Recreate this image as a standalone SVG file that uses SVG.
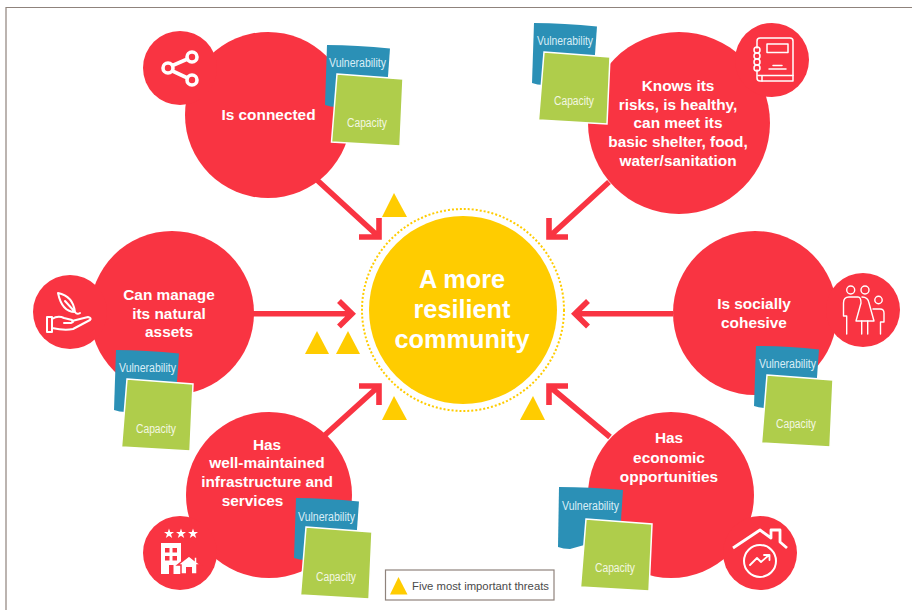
<svg xmlns="http://www.w3.org/2000/svg" width="912" height="610" viewBox="0 0 912 610">
<style>
.bg{fill:#fff}
.red{fill:#f93442}
.tri{fill:#ffcc00}
.arrow{fill:none;stroke:#f93442;stroke-width:5.6;stroke-linejoin:miter;stroke-miterlimit:6}
.blue{fill:#2b90b6}
.green{fill:#afcd4b;stroke:#fff;stroke-width:1.5}
.lab{font-family:"Liberation Sans",Arial,sans-serif;font-weight:700;font-size:15.4px;fill:#fff;text-anchor:middle}
.big{font-size:25.3px}
.v{font-family:"Liberation Sans",Arial,sans-serif;font-size:12px;fill:#d9eef6}
.c{font-family:"Liberation Sans",Arial,sans-serif;font-size:12px;fill:#f3f7e2}
.ico{fill:none;stroke:#fff;stroke-linejoin:round;stroke-linecap:round}
.solid{fill:#fff}
.hole{fill:#f93442}
.leg{font-family:"Liberation Sans",Arial,sans-serif;font-size:11.8px;fill:#4a4a4a}
</style>
<defs>
<path id="bluenote" class="blue" d="M0 0Q30 0 63 3.5L60 45 10 62Q3 62-2 60Z"/>
<polygon id="greennote" class="green" points="0,0 66,5 63,72 -5.5,68"/>
</defs>
<rect class="bg" width="912" height="610"/>
<path d="M6 610V7.500H912" fill="none" stroke="#8f837c" stroke-width="1.2"/>

<g id="connectors">
<path class="arrow" d="M317 180L379 237M359 237H379V218"/>
<path class="arrow" d="M609 182L549 237M568 237H549V218"/>
<path class="arrow" d="M253 313.7H352M339 301L352 313.7 339 326.5"/>
<path class="arrow" d="M673 313.7H575M588 301L575 313.7 588 326.5"/>
<path class="arrow" d="M325 435L379 386M359 386H379V405"/>
<path class="arrow" d="M610 437L549 386M568 386H549V405"/>
</g>

<g id="threats">
<polygon class="tri" points="394,193 382,217 407,217"/>
<polygon class="tri" points="317,331 305,354 329,354"/>
<polygon class="tri" points="348,331 336,354 360,354"/>
<polygon class="tri" points="394,396 382,420 407,420"/>
<polygon class="tri" points="533,396 520,420 545,420"/>
</g>

<g id="centre">
<circle cx="463" cy="310" r="101" fill="none" stroke="#ffcc00" stroke-width="2" stroke-dasharray="2 2"/>
<circle cx="463" cy="310" r="94" fill="#ffcc00"/>
<text class="lab big" x="462" y="288">A more</text>
<text class="lab big" x="462" y="318">resilient</text>
<text class="lab big" x="462" y="348">community</text>
</g>

<g id="node-connected">
<circle class="red" cx="268" cy="115" r="83"/>
<circle class="red" cx="180" cy="68" r="37"/>
<g class="ico" stroke-width="3.6">
<path d="M172.500 65.500L187.500 59M172.500 71L187.500 78"/>
<circle cx="168" cy="68" r="5"/><circle cx="192" cy="57" r="5"/><circle cx="192" cy="80" r="5"/>
</g>
<text class="lab" x="268.500" y="120">Is connected</text>
<use href="#bluenote" x="327" y="45"/>
<use href="#greennote" x="337" y="74"/>
<text class="v" x="329" y="67" textLength="57" lengthAdjust="spacingAndGlyphs">Vulnerability</text>
<text class="c" x="347" y="127" textLength="40" lengthAdjust="spacingAndGlyphs">Capacity</text>
</g>

<g id="node-knows">
<circle class="red" cx="679" cy="123" r="91"/>
<circle class="red" cx="772" cy="60" r="37"/>
<g class="ico" stroke-width="1.5">
<path d="M757 48V41Q757 38 760 38H790Q793 38 793 41V81H760Q757 81 757 78V70"/>
<rect x="767" y="44" width="21" height="8.500"/>
<path d="M773 65.500H782M769 69H786M758 75.500H793M762 75.500V81"/>
<circle cx="757" cy="50" r="3"/><circle cx="757" cy="56" r="3"/><circle cx="757" cy="62" r="3"/><circle cx="757" cy="68" r="3"/>
</g>
<text class="lab" x="678" y="91">Knows its</text>
<text class="lab" x="678" y="110">risks, is healthy,</text>
<text class="lab" x="678" y="128">can meet its</text>
<text class="lab" x="678" y="147">basic shelter, food,</text>
<text class="lab" x="678" y="166">water/sanitation</text>
<use href="#bluenote" x="534" y="23"/>
<use href="#greennote" x="544" y="52"/>
<text class="v" x="537" y="45" textLength="56" lengthAdjust="spacingAndGlyphs">Vulnerability</text>
<text class="c" x="554" y="105" textLength="40" lengthAdjust="spacingAndGlyphs">Capacity</text>
</g>

<g id="node-natural">
<circle class="red" cx="172" cy="313" r="82"/>
<circle class="red" cx="70" cy="312" r="37"/>
<g class="ico" stroke-width="2">
<path d="M58 293Q73 296 75 312 62 312 58 293ZM65 301L75 312Q77 315 80 313"/>
<path d="M47 317H52V332H47ZM52 319Q58 315 64 318L72 320Q75 322 71 323H64M72 321L88 317Q92 318 90 320L73 329Q65 331 52 328"/>
</g>
<text class="lab" x="169" y="300">Can manage</text>
<text class="lab" x="169" y="319">its natural</text>
<text class="lab" x="169" y="337">assets</text>
<use href="#bluenote" x="116" y="350"/>
<use href="#greennote" x="127" y="379"/>
<text class="v" x="119" y="372" textLength="57" lengthAdjust="spacingAndGlyphs">Vulnerability</text>
<text class="c" x="136" y="433" textLength="40" lengthAdjust="spacingAndGlyphs">Capacity</text>
</g>

<g id="node-cohesive">
<circle class="red" cx="755" cy="313" r="82"/>
<circle class="red" cx="863" cy="310" r="37"/>
<g class="ico" stroke-width="1.400">
<circle cx="850.700" cy="290" r="4"/><circle cx="865" cy="290" r="4"/><circle cx="878.500" cy="300" r="3.700"/>
<path d="M846.700 334V316H843.500V303Q843.500 297 849 297H858Q861 297 861 303L856 321H874L869 303Q868 297 862 297"/>
<path d="M861.700 321V334M867.700 321V334"/>
<path d="M873 309H880Q884 309 884 313V322H880.500V334"/>
</g>
<text class="lab" x="754" y="309">Is socially</text>
<text class="lab" x="754" y="328">cohesive</text>
<use href="#bluenote" x="756" y="346"/>
<use href="#greennote" x="767" y="375"/>
<text class="v" x="759" y="368" textLength="57" lengthAdjust="spacingAndGlyphs">Vulnerability</text>
<text class="c" x="776" y="428" textLength="40" lengthAdjust="spacingAndGlyphs">Capacity</text>
</g>

<g id="node-infrastructure">
<circle class="red" cx="269" cy="495" r="83"/>
<circle class="red" cx="180" cy="553" r="37"/>
<g>
<polygon class="solid" points="169,528.500 170.200,532 174,532 171,534.200 172.200,538 169,535.700 165.800,538 167,534.200 164,532 167.800,532"/>
<polygon class="solid" points="181,528.500 182.200,532 186,532 183,534.200 184.200,538 181,535.700 177.800,538 179,534.200 176,532 179.800,532"/>
<polygon class="solid" points="193,528.500 194.200,532 198,532 195,534.200 196.200,538 193,535.700 189.800,538 191,534.200 188,532 191.800,532"/>
<rect class="solid" x="161" y="543" width="20" height="31"/>
<rect class="hole" x="165" y="548" width="4.500" height="4.500"/><rect class="hole" x="172.500" y="548" width="4.500" height="4.500"/>
<rect class="hole" x="165" y="556" width="4.500" height="4.500"/><rect class="hole" x="172.500" y="556" width="4.500" height="4.500"/>
<rect class="hole" x="169" y="565" width="4.500" height="9"/>
<polygon class="solid" points="177.500,565 189,556 194,560 194,557 197,557 197,562 201,565 197,565 197,574 181,574 181,565" stroke="#f93442" stroke-width="1.500"/>
<rect class="hole" x="186" y="567" width="6" height="7"/>
</g>
<text class="lab" x="267" y="450">Has</text>
<text class="lab" x="267" y="468">well-maintained</text>
<text class="lab" x="267" y="487">infrastructure and</text>
<text class="lab" x="252.500" y="506">services</text>
<use href="#bluenote" x="296" y="498"/>
<use href="#greennote" x="306" y="527"/>
<text class="v" x="298" y="521" textLength="57" lengthAdjust="spacingAndGlyphs">Vulnerability</text>
<text class="c" x="316" y="581" textLength="40" lengthAdjust="spacingAndGlyphs">Capacity</text>
</g>

<g id="node-economic">
<circle class="red" cx="671" cy="495" r="83"/>
<circle class="red" cx="760" cy="553" r="37"/>
<g class="ico">
<path stroke-width="2.800" stroke-linecap="butt" d="M733 548L760 530 771 538V530H780V542L787 548"/>
<circle cx="760" cy="561" r="16" stroke-width="2"/>
<path stroke-width="1.800" d="M750 565L757 558 761 562 769 555M764 555H769.500V560"/>
</g>
<text class="lab" x="669" y="443">Has</text>
<text class="lab" x="669" y="463">economic</text>
<text class="lab" x="669" y="482">opportunities</text>
<path class="blue" d="M559 487Q590 487 623 490L620 535 570 549Q563 549 558 547Z"/>
<use href="#greennote" x="586" y="519"/>
<text class="v" x="562" y="510" textLength="57" lengthAdjust="spacingAndGlyphs">Vulnerability</text>
<text class="c" x="595" y="572" textLength="40" lengthAdjust="spacingAndGlyphs">Capacity</text>
</g>

<g id="legend">
<rect x="385.500" y="570" width="168.500" height="30" fill="#fff" stroke="#8f837c" stroke-width="1.200"/>
<polygon class="tri" points="398.500,577 390,594.500 407.500,594.500"/>
<text class="leg" x="412" y="590" textLength="137" lengthAdjust="spacingAndGlyphs">Five most important threats</text>
</g>
</svg>
